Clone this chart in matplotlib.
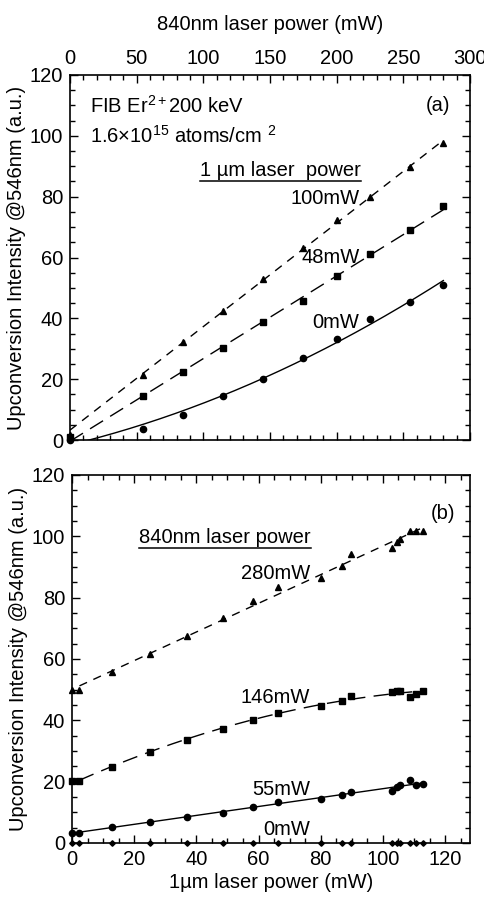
import numpy as np
import matplotlib
matplotlib.use("Agg")
import matplotlib.pyplot as plt
from matplotlib.ticker import MultipleLocator
from matplotlib.lines import Line2D

plt.rcParams["font.family"] = ["Liberation Sans", "DejaVu Sans"]
plt.rcParams["mathtext.fontset"] = "custom"
plt.rcParams["mathtext.rm"] = "Liberation Sans"
plt.rcParams["mathtext.it"] = "Liberation Sans:italic"

# ---- panel (a): intensity vs 840nm power, for three 1um powers ----
p840 = [55, 85, 115, 145, 175, 200, 225, 255, 280]
a_0mW = [3.6, 8.2, 14.5, 20.1, 27.1, 33.2, 39.9, 45.3, 50.9]
a_48mW = [14.4, 22.2, 30.3, 38.7, 45.8, 53.8, 61.0, 69.0, 76.9]
a_100mW = [21.4, 32.2, 42.3, 52.8, 63.2, 72.2, 80.0, 89.8, 97.8]
a_origin = [0.0, 1.0, 1.5]  # points at 0 mW 840nm (circle, square, triangle)

# ---- panel (b): intensity vs 1um power, for four 840nm powers ----
p1um = [0, 2.4, 13, 25, 37, 48.7, 58.3, 66.4, 80, 86.8, 89.8,
        102.9, 104.5, 105.5, 108.7, 110.7, 112.8]
b_280mW = [50, 50, 55.6, 61.6, 67.5, 73.4, 79, 83.6, 86.4, 90.4, 94.3,
           96.3, 98.3, 99.2, 101.7, 101.7, 101.7]
b_146mW = [20.1, 20.1, 24.8, 29.8, 33.7, 37.2, 40.2, 42.3, 44.8, 46.2, 48,
           49.3, 49.6, 49.6, 47.7, 48.6, 49.6]
b_55mW = [3.3, 3.3, 5.3, 6.9, 8.5, 9.9, 11.7, 13.4, 14.3, 15.6, 16.6,
          16.9, 18.3, 18.8, 20.4, 19.0, 19.4]
b_0mW = [0] * len(p1um)

FS = 14.5
TFS = 14.5
ylab = "Upconversion Intensity @546nm (a.u.)"

fig = plt.figure(figsize=(4.85, 9), dpi=100)
axa = fig.add_axes([70 / 485, 1 - 440 / 900, 400 / 485, 365 / 900])
axb = fig.add_axes([72 / 485, 1 - 843 / 900, 398 / 485, 368 / 900])

short_dash = (0, (6, 5))
long_dash = (0, (11, 6))


def style(ax):
    ax.tick_params(which="both", direction="in", top=True, right=True,
                   labelsize=TFS, width=1, pad=5)
    ax.tick_params(which="major", length=6)
    ax.tick_params(which="minor", length=3.5)
    for s in ax.spines.values():
        s.set_linewidth(1.2)


def underline(txt):
    fig.canvas.draw()
    bb = txt.get_window_extent()
    inv = fig.transFigure.inverted()
    (x0, y0), (x1, _) = inv.transform([(bb.x0, bb.y0 - 1), (bb.x1, bb.y0)])
    fig.add_artist(Line2D([x0, x1], [y0, y0], color="black", lw=1.1,
                          transform=fig.transFigure))


# panel (a)
xa = np.array(p840, float)
xfit = np.linspace(0, 280, 200)
c0 = np.polyfit(np.r_[0, xa], np.r_[a_origin[0], a_0mW], 2)
c48 = np.polyfit(np.r_[0, xa], np.r_[a_origin[1], a_48mW], 1)
c100 = np.polyfit(xa, a_100mW, 1)
axa.plot(xfit, np.polyval(c0, xfit), color="black", lw=1)
axa.plot(xfit, np.polyval(c48, xfit), color="black", lw=1, linestyle=long_dash)
axa.plot(xfit, np.polyval(c100, xfit), color="black", lw=1, linestyle=short_dash)
axa.plot(xa, a_0mW, "o", color="black", ms=4.5)
axa.plot(xa, a_48mW, "s", color="black", ms=5)
axa.plot(xa, a_100mW, "^", color="black", ms=5)
axa.plot([0], [a_origin[0]], "o", color="black", ms=4.5, clip_on=False)
axa.plot([0], [a_origin[1]], "s", color="black", ms=5, clip_on=False)
axa.plot([0], [a_origin[2]], "^", color="black", ms=5, clip_on=False)

axa.set_xlim(0, 300)
axa.set_ylim(0, 120)
axa.xaxis.set_major_locator(MultipleLocator(50))
axa.xaxis.set_minor_locator(MultipleLocator(10))
axa.yaxis.set_major_locator(MultipleLocator(20))
axa.yaxis.set_minor_locator(MultipleLocator(5))
style(axa)
axa.tick_params(labeltop=True, labelbottom=False)
axa.xaxis.set_label_position("top")
axa.set_xlabel("840nm laser power (mW)", fontsize=FS, labelpad=14)
axa.set_ylabel(ylab, fontsize=FS, labelpad=3)

axa.text(15, 110, r"FIB Er$^{2+}$200 keV", fontsize=FS, va="center")
axa.text(15, 100, r"1.6$\times$10$^{15}$ atoms/cm $^{2}$", fontsize=FS, va="center")
axa.text(276, 110, "(a)", fontsize=FS, va="center", ha="center")
ta = axa.text(158, 88.5, "1 \u00b5m laser  power", fontsize=FS, va="center", ha="center")
axa.text(217, 79.5, "100mW", fontsize=FS, va="center", ha="right")
axa.text(217, 60, "48mW", fontsize=FS, va="center", ha="right")
axa.text(217, 38.5, "0mW", fontsize=FS, va="center", ha="right")

# panel (b)
xb = np.array(p1um, float)
xf = np.linspace(2.4, 112.8, 200)
k280 = np.polyfit(xb, b_280mW, 1)
k146 = np.polyfit(xb, b_146mW, 2)
k55 = np.polyfit(xb, b_55mW, 1)
axb.plot(xf, np.polyval(k280, xf), color="black", lw=1, linestyle=short_dash)
axb.plot(xf, np.polyval(k146, xf), color="black", lw=1, linestyle=long_dash)
axb.plot(xf, np.polyval(k55, xf), color="black", lw=1)
axb.plot(xb, b_280mW, "^", color="black", ms=5, clip_on=False)
axb.plot(xb, b_146mW, "s", color="black", ms=5, clip_on=False)
axb.plot(xb, b_55mW, "o", color="black", ms=4.5, clip_on=False)
axb.plot(xb, b_0mW, "D", color="black", ms=2.8, clip_on=False)

axb.set_xlim(0, 128)
axb.set_ylim(0, 120)
axb.xaxis.set_major_locator(MultipleLocator(20))
axb.xaxis.set_minor_locator(MultipleLocator(5))
axb.yaxis.set_major_locator(MultipleLocator(20))
axb.yaxis.set_minor_locator(MultipleLocator(5))
style(axb)
axb.set_xlabel("1\u00b5m laser power (mW)", fontsize=FS, labelpad=3)
axb.set_ylabel(ylab, fontsize=FS, labelpad=3)

axb.text(119.4, 107.5, "(b)", fontsize=FS, va="center", ha="center")
tb = axb.text(49.2, 99.6, "840nm laser power", fontsize=FS, va="center", ha="center")
axb.text(76.6, 88, "280mW", fontsize=FS, va="center", ha="right")
axb.text(76.6, 47.5, "146mW", fontsize=FS, va="center", ha="right")
axb.text(76.6, 17.4, "55mW", fontsize=FS, va="center", ha="right")
axb.text(76.6, 4.4, "0mW", fontsize=FS, va="center", ha="right")

underline(ta)
underline(tb)

fig.savefig("out.png", dpi=100)
